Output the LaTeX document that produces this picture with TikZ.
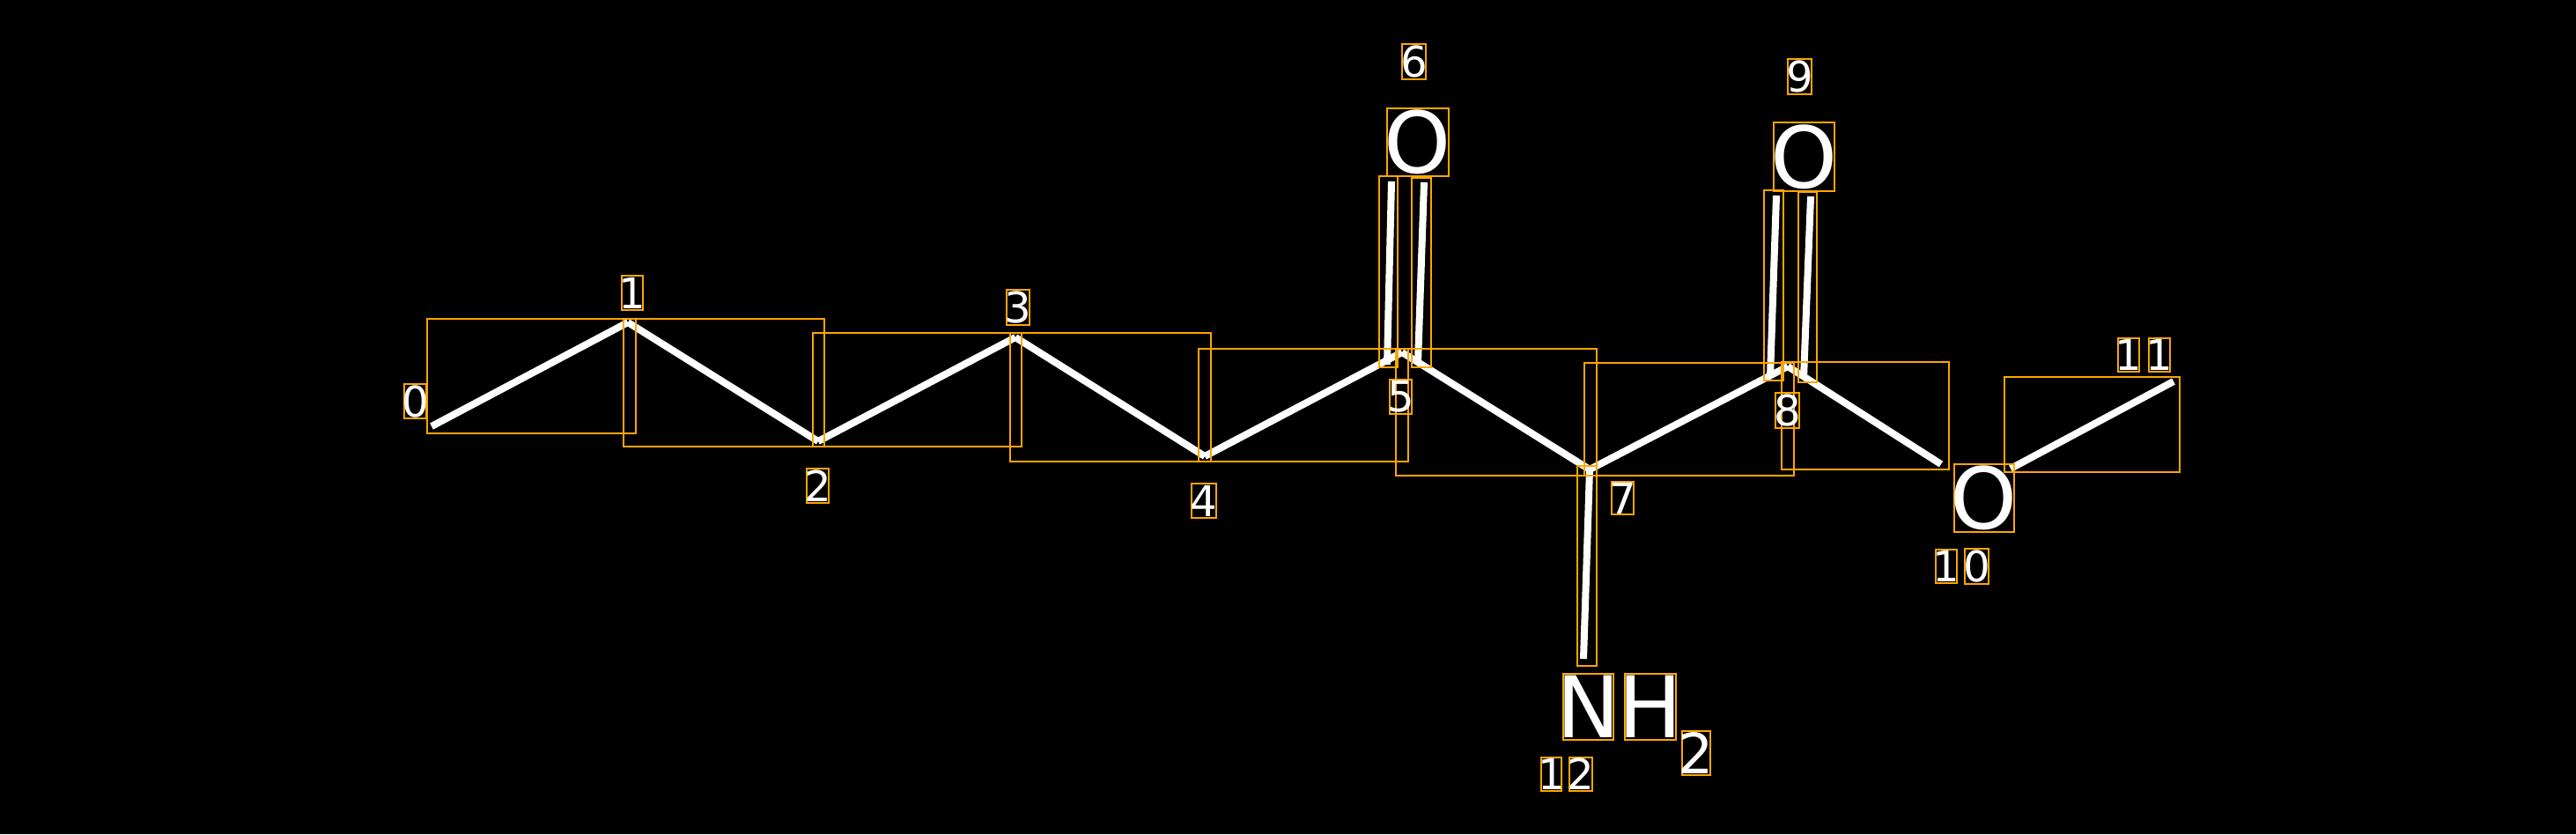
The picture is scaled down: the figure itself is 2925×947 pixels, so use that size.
\documentclass[tikz,border=0pt]{standalone}
\usepackage{fontspec}
\setmainfont{DejaVu Sans}
\usetikzlibrary{fit}
\definecolor{boxc}{HTML}{FFA500}
\tikzset{
  bond/.style={draw=white, line width=0.08cm},
  bbox/.style={draw=boxc, line width=0.025cm, inner sep=0pt, outer sep=0pt},
  idx/.style={text=white, inner sep=0pt, font=\fontsize{13.7}{16}\selectfont},
  sym/.style={text=white, inner sep=0pt, font=\fontsize{27.5}{32}\selectfont},
  subs/.style={text=white, inner sep=0pt, font=\fontsize{18}{20}\selectfont}
}
\begin{document}
\begin{tikzpicture}[x=0.01cm,y=-0.01cm]
\fill[black] (0,0) rectangle (2925,947);
\useasboundingbox (0,0) rectangle (2925,947);
% atom positions
\coordinate (a0) at (490,484);
\coordinate (a1) at (713,366);
\coordinate (a2) at (929,501);
\coordinate (a3) at (1153,383);
\coordinate (a4) at (1368,518);
\coordinate (a5) at (1592,400);
\coordinate (a7) at (1805,533);
\coordinate (a8) at (2030,416);
\coordinate (a11) at (2468,433);
\coordinate (e8o) at (2204,527);
\coordinate (e11o) at (2283,532);
\coordinate (e7n) at (1798,748);
\coordinate (d6a1) at (1575,414);
\coordinate (d6a2) at (1580,206);
\coordinate (d6b1) at (1610,412);
\coordinate (d6b2) at (1617,207);
\coordinate (d9a1) at (2010,428);
\coordinate (d9a2) at (2017,222);
\coordinate (d9b1) at (2048,429);
\coordinate (d9b2) at (2056,223);
% bonds
\draw[bond] (a0) -- (a1);
\draw[bond] (a1) -- (a2);
\draw[bond] (a2) -- (a3);
\draw[bond] (a3) -- (a4);
\draw[bond] (a4) -- (a5);
\draw[bond] (a5) -- (a7);
\draw[bond] (a7) -- (a8);
\draw[bond] (a8) -- (e8o);
\draw[bond] (e11o) -- (a11);
\draw[bond] (a7) -- (e7n);
\draw[bond] (d6a1) -- (d6a2);
\draw[bond] (d6b1) -- (d6b2);
\draw[bond] (d9a1) -- (d9a2);
\draw[bond] (d9b1) -- (d9b2);
% bond boxes
\node[bbox, fit={(485,362) (722,492)}] (b01) {};
\node[bbox, fit={(708,362) (936,507)}] (b12) {};
\node[bbox, fit={(923,378) (1160,507)}] (b23) {};
\node[bbox, fit={(1147,378) (1375,524)}] (b34) {};
\node[bbox, fit={(1361,396) (1599,524)}] (b45) {};
\node[bbox, fit={(1566,200) (1587,417)}] (b56a) {};
\node[bbox, fit={(1603,202) (1625,417)}] (b56b) {};
\node[bbox, fit={(1585,396) (1813,540)}] (b57) {};
\node[bbox, fit={(1799,412) (2037,540)}] (b78) {};
\node[bbox, fit={(1791,529) (1813,756)}] (b712) {};
\node[bbox, fit={(2003,216) (2025,432)}] (b89a) {};
\node[bbox, fit={(2042,218) (2063,434)}] (b89b) {};
\node[bbox, fit={(2023,411) (2213,533)}] (b810) {};
\node[bbox, fit={(2276,428) (2475,536)}] (b1011) {};
% glyph boxes
\node[bbox, fit={(1575,123) (1645,200)}] (g6) {};
\node[bbox, fit={(2014,139) (2083,217)}] (g9) {};
\node[bbox, fit={(2219,527) (2287,604)}] (g10) {};
\node[bbox, fit={(1775,765) (1832,840)}] (gn) {};
\node[bbox, fit={(1845,765) (1903,840)}] (gh) {};
\node[bbox, fit={(1910,830) (1942,880)}] (gs) {};
\node[bbox, fit={(459,436) (484,475)}] (gl0) {};
\node[bbox, fit={(706,313) (730,352)}] (gl1) {};
\node[bbox, fit={(916,532) (941,571)}] (gl2) {};
\node[bbox, fit={(1143,329) (1169,369)}] (gl3) {};
\node[bbox, fit={(1353,549) (1381,588)}] (gl4) {};
\node[bbox, fit={(1578,431) (1603,470)}] (gl5) {};
\node[bbox, fit={(1592,50) (1619,90)}] (gl6) {};
\node[bbox, fit={(1830,547) (1855,584)}] (gl7) {};
\node[bbox, fit={(2016,446) (2043,486)}] (gl8) {};
\node[bbox, fit={(2030,67) (2057,107)}] (gl9) {};
\node[bbox, fit={(2198,624) (2222,662)}] (gl10a) {};
\node[bbox, fit={(2231,623) (2258,663)}] (gl10b) {};
\node[bbox, fit={(2405,384) (2429,422)}] (gl11a) {};
\node[bbox, fit={(2440,384) (2464,422)}] (gl11b) {};
\node[bbox, fit={(1750,860) (1773,898)}] (gl12a) {};
\node[bbox, fit={(1782,860) (1808,898)}] (gl12b) {};
% texts
\node[sym] (o6) at (g6.center) {O};
\node[sym] (o9) at (g9.center) {O};
\node[sym] (o10) at (g10.center) {O};
\node[sym] (n12) at (gn.center) {N};
\node[sym] (h12) at (gh.center) {H};
\node[subs] (s12) at (gs.center) {2};
\node[idx] (l0) at (gl0.center) {0};
\node[idx] (l1) at (gl1.center) {1};
\node[idx] (l2) at (gl2.center) {2};
\node[idx] (l3) at (gl3.center) {3};
\node[idx] (l4) at (gl4.center) {4};
\node[idx] (l5) at (gl5.center) {5};
\node[idx] (l6) at (gl6.center) {6};
\node[idx] (l7) at (gl7.center) {7};
\node[idx] (l8) at (gl8.center) {8};
\node[idx] (l9) at (gl9.center) {9};
\node[idx] (l10a) at (gl10a.center) {1};
\node[idx] (l10b) at (gl10b.center) {0};
\node[idx] (l11a) at (gl11a.center) {1};
\node[idx] (l11b) at (gl11b.center) {1};
\node[idx] (l12a) at (gl12a.center) {1};
\node[idx] (l12b) at (gl12b.center) {2};
\end{tikzpicture}
\end{document}
